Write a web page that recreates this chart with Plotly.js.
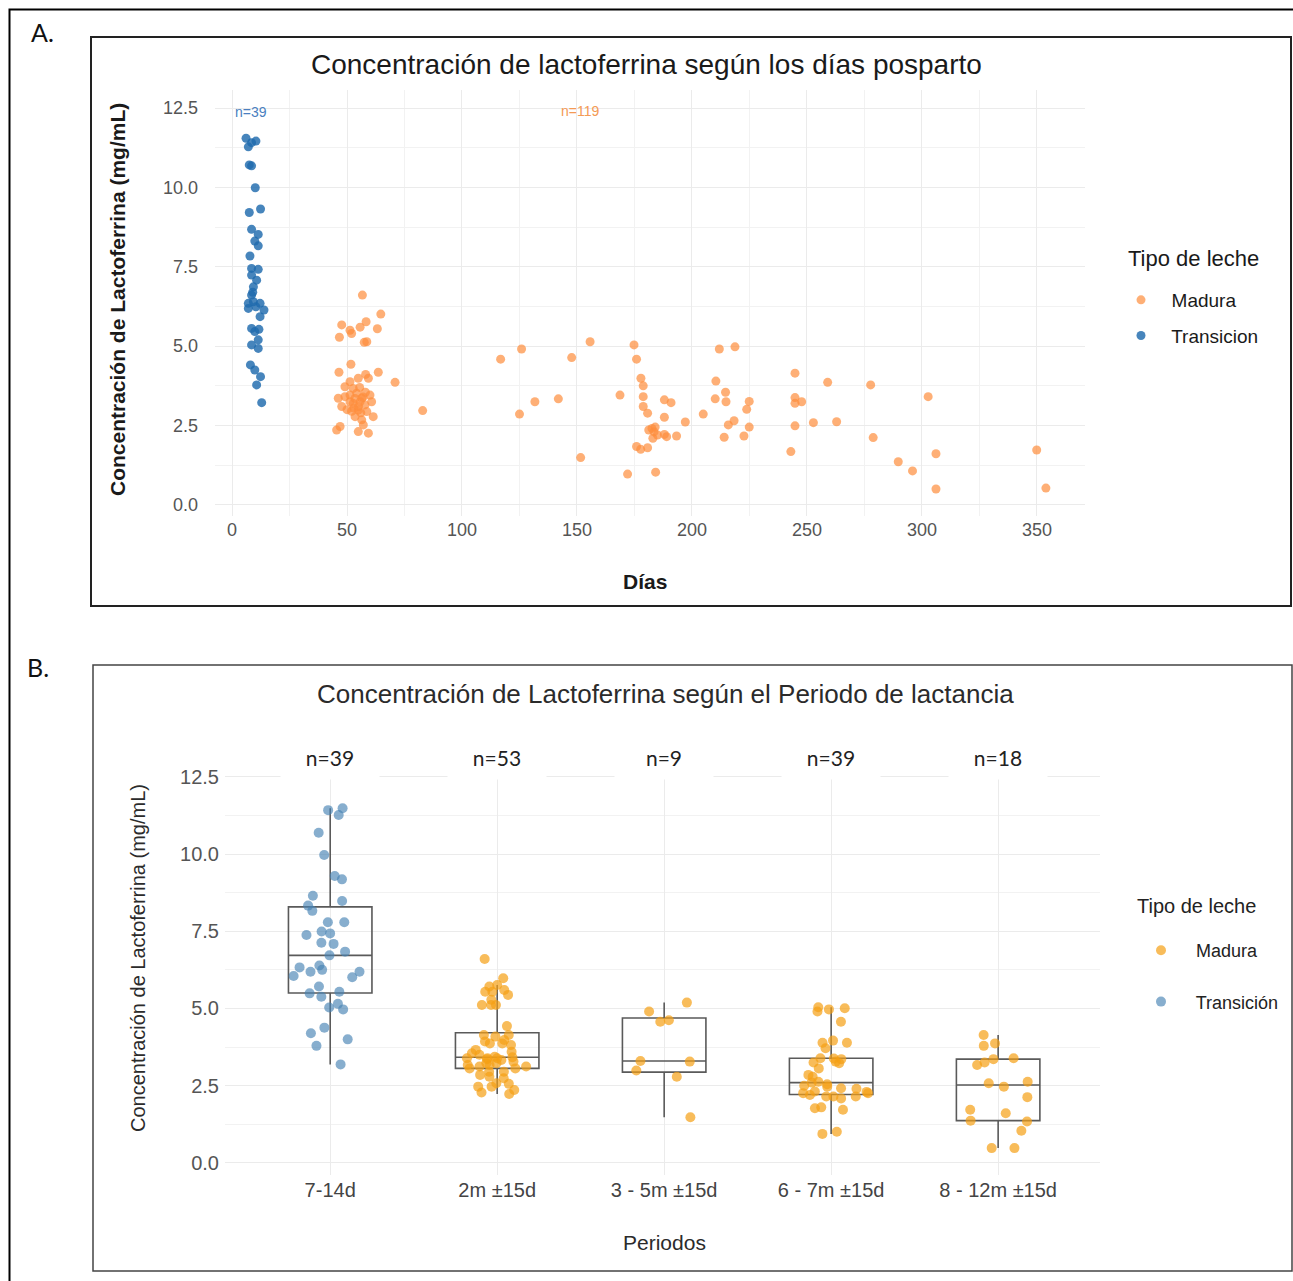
<!DOCTYPE html>
<html>
<head>
<meta charset="utf-8">
<script src="https://cdn.plot.ly/plotly-3.0.1.min.js"></script>
<style>html,body{margin:0;padding:0;background:#fff;}#chart{width:1293px;height:1281px;}</style>
</head>
<body>
<div id="chart"></div>
<script>
// ---------- Panel A data: days postpartum vs lactoferrin (mg/mL) ----------
const diasTransicion = [6.1,8.5,10.4,7.1,7.5,8.5,10.1,7.5,12.4,8.5,11.4,9.9,11.4,7.8,8.5,11.4,8.5,10.7,9.3,8.5,7.1,9.3,12.2,10.4,13.9,7.1,12.2,8.5,11.7,9.9,11.4,8.5,11.4,8.0,9.9,12.4,10.7,12.9,9.0];
const concTransicion = [11.55,11.41,11.46,11.28,10.71,10.68,9.99,9.21,9.32,8.68,8.52,8.31,8.16,7.84,7.45,7.42,7.24,7.08,6.87,6.61,6.35,6.40,6.35,6.24,6.14,6.19,5.93,5.56,5.53,5.46,5.20,5.04,4.93,4.41,4.25,4.04,3.78,3.22,6.70];

const diasMadura = [
  56.7,64.7,47.7,51.3,52.0,55.7,58.3,63.2,46.7,58.6,57.5,
  51.7,46.5,58.1,63.6,70.9,54.9,51.3,49.1,52.7,59.3,46.2,51.3,54.2,56.4,60.7,52.7,57.8,47.7,54.9,58.6,61.4,53.5,56.4,57.1,47.0,45.5,54.9,59.3,49.1,51.3,55.7,60.0,82.9,
  53.5,55.0,57.0,53.0,56.0,58.0,50.0,55.5,52.0,
  116.8,125.9,155.7,147.7,125.0,131.7,141.9,151.6,
  174.8,175.9,211.9,218.7,168.7,177.8,178.8,178.8,178.8,180.7,188.0,190.9,188.0,197.1,204.9,210.4,210.1,214.6,214.8,224.9,223.8,218.3,215.8,224.9,214.0,222.6,182.6,184.0,181.2,185.0,188.0,189.0,183.0,193.3,175.9,177.7,180.7,172.0,184.2,183.5,
  244.8,259.0,277.7,302.7,244.8,247.7,244.8,244.8,252.8,262.9,243.0,278.8,289.7,295.9,306.1,306.1,349.9,353.9
];
const concMadura = [
  6.61,6.01,5.67,5.50,5.40,5.60,5.77,5.55,5.28,5.14,5.12,
  4.43,4.18,4.11,4.18,3.86,3.99,3.88,3.72,3.67,3.99,3.36,3.46,3.52,3.36,3.25,3.20,3.15,3.10,2.99,2.94,2.78,2.78,2.68,2.52,2.47,2.36,2.31,2.26,3.41,3.25,3.25,3.46,2.97,
  3.35,3.10,3.40,3.05,2.90,3.55,3.00,3.70,2.95,
  4.59,4.91,5.14,4.64,2.86,3.25,3.34,1.49,
  5.04,4.59,4.91,4.98,3.46,3.99,3.75,3.41,3.10,2.89,3.31,3.22,2.76,2.61,2.86,3.90,3.34,3.55,3.25,3.26,3.01,2.65,2.52,2.45,2.13,2.17,2.41,2.45,2.36,2.20,2.22,2.15,2.10,2.17,1.84,1.75,1.80,0.97,1.03,2.30,
  4.15,3.86,3.78,3.41,3.38,3.25,3.20,2.49,2.59,2.62,1.68,2.12,1.36,1.07,1.61,0.50,1.73,0.53
];

// ---------- Panel B data: lactoferrin by lactation period ----------
const periodos = ['7-14d','2m ±15d','3 - 5m ±15d','6 - 7m ±15d','8 - 12m ±15d'];
const nPorPeriodo = ['n=39','n=53','n=9','n=39','n=18'];
const conc7a14d = [11.48,11.42,11.26,10.69,9.97,9.29,9.18,8.65,8.48,8.33,8.16,7.79,7.79,7.43,7.38,7.49,7.13,7.09,6.84,6.72,6.33,6.39,6.19,6.25,6.05,6.19,6.01,5.71,5.54,5.49,5.38,5.15,4.97,5.03,4.38,4.20,4.00,3.79,3.19];
const conc2m = [6.60,5.98,5.71,5.76,5.54,5.44,5.28,5.54,5.60,5.11,5.11,5.11,4.43,4.14,4.09,4.14,3.87,3.93,3.82,3.87,3.66,3.55,3.50,3.39,3.28,3.33,3.39,3.44,3.39,3.12,3.23,3.23,3.17,3.12,3.06,2.95,2.95,2.85,3.06,2.79,2.74,2.58,2.36,2.23,2.28,2.56,2.47,2.47,3.17,3.36,3.60,3.42,3.98];
const conc3a5m = [5.19,4.90,4.62,4.57,3.30,3.28,2.99,2.79,1.48];
const conc6a7m = [4.90,4.97,5.01,5.04,4.57,3.96,3.89,3.89,3.71,3.36,3.25,3.39,3.38,3.28,3.23,3.06,2.79,2.85,2.63,2.47,2.42,2.26,2.15,2.15,2.15,2.26,2.31,2.09,1.77,1.72,1.80,1.01,0.94,2.40,2.50,2.30,2.55,2.60,2.20];
const conc8a12m = [4.14,3.87,3.79,3.39,3.36,3.17,3.25,2.58,2.63,2.47,2.13,1.72,1.61,1.34,1.37,1.04,0.48,0.48];

// ---------- helpers ----------
const W = 1293, H = 1281;
const fx = p => p / W;
const fy = p => 1 - p / H;
const FONT = 'Liberation Sans, Arial, sans-serif';

const maduraGroups = [conc2m, conc3a5m, conc6a7m, conc8a12m];
const maduraX = [], maduraY = [];
maduraGroups.forEach((g, i) => g.forEach(v => { maduraX.push(periodos[i + 1]); maduraY.push(v); }));

const colA_mad = '#fd8d3c', colA_tra = '#1f6aad';
const colB_mad = 'rgba(245,160,20,0.7)', colB_tra = 'rgba(70,130,180,0.65)';

const traces = [
  { type: 'scatter', mode: 'markers', name: '  Madura', x: diasMadura, y: concMadura,
    xaxis: 'x', yaxis: 'y', legend: 'legend', legendgroup: 'a1',
    marker: { color: colA_mad, size: 9, opacity: 0.7 } },
  { type: 'scatter', mode: 'markers', name: '  Transicion', x: diasTransicion, y: concTransicion,
    xaxis: 'x', yaxis: 'y', legend: 'legend', legendgroup: 'a2',
    marker: { color: colA_tra, size: 9, opacity: 0.82 } },
  { type: 'box', name: 'Transición', x: conc7a14d.map(() => periodos[0]), y: conc7a14d,
    xaxis: 'x2', yaxis: 'y2', showlegend: false,
    boxpoints: 'all', jitter: 0.9, pointpos: 0, width: 0.5, whiskerwidth: 0,
    fillcolor: 'rgba(0,0,0,0)', line: { color: '#5a5a5a', width: 1.6 },
    marker: { color: colB_tra, size: 10 } },
  { type: 'box', name: 'Madura', x: maduraX, y: maduraY,
    xaxis: 'x2', yaxis: 'y2', showlegend: false,
    boxpoints: 'all', jitter: 0.9, pointpos: 0, width: 0.5, whiskerwidth: 0,
    fillcolor: 'rgba(0,0,0,0)', line: { color: '#5a5a5a', width: 1.6 },
    marker: { color: colB_mad, size: 10 } },
  { type: 'scatter', mode: 'markers', name: '   Madura', x: [null], y: [null],
    xaxis: 'x2', yaxis: 'y2', legend: 'legend2', legendgroup: 'b1',
    marker: { color: colB_mad, size: 10 } },
  { type: 'scatter', mode: 'markers', name: '   Transición', x: [null], y: [null],
    xaxis: 'x2', yaxis: 'y2', legend: 'legend2', legendgroup: 'b2',
    marker: { color: colB_tra, size: 10 } }
];

const gridMajor = '#ebebeb', gridMinor = '#f2f2f2';

function note(text, px, py, size, extra) {
  return Object.assign({ text: text, x: fx(px), y: fy(py), xref: 'paper', yref: 'paper',
    xanchor: 'center', yanchor: 'middle', showarrow: false,
    font: { family: FONT, size: size, color: '#1a1a1a' } }, extra || {});
}

const annotations = [
  note('A.', 42, 32, 25, { font: { family: 'Lato, Liberation Sans, sans-serif', size: 25, color: '#111' } }),
  note('B.', 38, 667, 25, { font: { family: 'Lato, Liberation Sans, sans-serif', size: 25, color: '#111' } }),
  note('Concentración de lactoferrina según los días posparto', 646, 64, 28),
  note('Concentración de Lactoferrina (mg/mL)', 117, 300, 21, { textangle: -90, font: { family: FONT, size: 21, color: '#1a1a1a', weight: 'bold' } }),
  note('Días', 645, 581, 21, { font: { family: FONT, size: 21, color: '#1a1a1a', weight: 'bold' } }),
  note('Tipo de leche', 1193, 258, 22),
  { text: 'n=39', x: 8.3, y: 12.37, xref: 'x', yref: 'y', xanchor: 'center', yanchor: 'middle', showarrow: false, font: { family: FONT, size: 14, color: '#4a7fc0' } },
  { text: 'n=119', x: 151.3, y: 12.4, xref: 'x', yref: 'y', xanchor: 'center', yanchor: 'middle', showarrow: false, font: { family: FONT, size: 14, color: '#f49a55' } },
  note('Concentración de Lactoferrina según el Periodo de lactancia', 665, 694, 26, { font: { family: FONT, size: 26, color: '#2b2b2b' } }),
  note('Concentración de Lactoferrina (mg/mL)', 138, 958, 20, { textangle: -90, font: { family: FONT, size: 20, color: '#2b2b2b' } }),
  note('Periodos', 664, 1242, 21, { font: { family: FONT, size: 21, color: '#2b2b2b' } }),
  note('Tipo de leche', 1196, 906, 20, { font: { family: FONT, size: 20, color: '#222' } })
];
periodos.forEach((p, i) => annotations.push({
  text: nPorPeriodo[i], x: p, y: 13.14, xref: 'x2', yref: 'y2', xanchor: 'center', yanchor: 'middle', showarrow: false,
  bgcolor: '#ffffff', width: 96, height: 42, valign: 'middle',
  font: { family: 'Lato, Liberation Sans, sans-serif', size: 21, color: '#222' }
}));

const shapes = [
  { type: 'rect', xref: 'paper', yref: 'paper', x0: fx(9.5), x1: fx(1310), y0: fy(9.5), y1: fy(1310), line: { color: '#000', width: 2 } },
  { type: 'rect', xref: 'paper', yref: 'paper', x0: fx(91), x1: fx(1291), y0: fy(37), y1: fy(606), line: { color: '#222', width: 2 } },
  { type: 'rect', xref: 'paper', yref: 'paper', x0: fx(93), x1: fx(1292), y0: fy(665), y1: fy(1271), line: { color: '#444', width: 1.5 } }
];

const layout = {
  width: W, height: H,
  margin: { l: 0, r: 0, t: 0, b: 0, pad: 0 },
  paper_bgcolor: '#fff', plot_bgcolor: '#fff',
  showlegend: true,
  boxmode: 'overlay',
  font: { family: FONT },
  xaxis: {
    domain: [fx(215), fx(1085)], anchor: 'y', range: [-7.4, 370.9],
    tick0: 0, dtick: 50, showgrid: true, gridcolor: gridMajor, gridwidth: 1,
    minor: { dtick: 25, showgrid: true, gridcolor: gridMinor, gridwidth: 1 },
    zeroline: false, showline: false, ticks: '', ticklabelstandoff: 1,
    tickfont: { family: FONT, size: 18, color: '#555' }
  },
  yaxis: {
    domain: [fy(516), fy(90)], anchor: 'x', range: [-0.35, 13.07],
    tick0: 0, dtick: 2.5, tickformat: '.1f', showgrid: true, gridcolor: gridMajor, gridwidth: 1,
    minor: { dtick: 1.25, showgrid: true, gridcolor: gridMinor, gridwidth: 1 },
    zeroline: false, showline: false, ticks: '', ticklabelstandoff: 16,
    tickfont: { family: FONT, size: 18, color: '#555' }
  },
  xaxis2: {
    domain: [fx(225), fx(1100)], anchor: 'y2', type: 'category',
    categoryorder: 'array', categoryarray: periodos, range: [-0.63, 4.61],
    showgrid: true, gridcolor: gridMajor, gridwidth: 1,
    zeroline: false, showline: false, ticks: '', ticklabelstandoff: 1,
    tickfont: { family: FONT, size: 20, color: '#444' }
  },
  yaxis2: {
    domain: [fy(1175), fy(740)], anchor: 'x2', range: [-0.39, 13.69],
    tick0: 0, dtick: 2.5, tickformat: '.1f', showgrid: true, gridcolor: gridMajor, gridwidth: 1,
    minor: { dtick: 1.25, showgrid: true, gridcolor: gridMinor, gridwidth: 1 },
    zeroline: false, showline: false, ticks: '', ticklabelstandoff: 5,
    tickfont: { family: FONT, size: 20, color: '#555' }
  },
  legend: {
    x: fx(1121), y: fy(318), xanchor: 'left', yanchor: 'middle',
    bgcolor: 'rgba(0,0,0,0)', tracegroupgap: 8,
    font: { family: FONT, size: 19, color: '#1a1a1a' }
  },
  legend2: {
    x: fx(1141), y: fy(976), xanchor: 'left', yanchor: 'middle',
    bgcolor: 'rgba(0,0,0,0)', tracegroupgap: 25,
    font: { family: FONT, size: 18, color: '#222' }
  },
  annotations: annotations,
  shapes: shapes
};

Plotly.newPlot('chart', traces, layout, { staticPlot: true, displayModeBar: false });
</script>
</body>
</html>
